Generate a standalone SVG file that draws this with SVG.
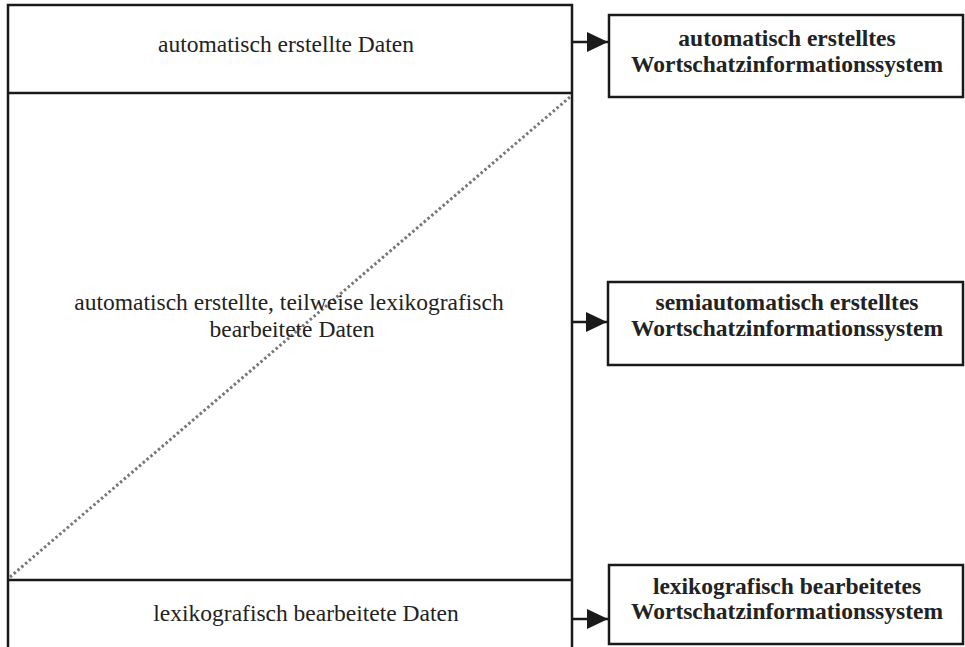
<svg xmlns="http://www.w3.org/2000/svg" width="965" height="647" viewBox="0 0 965 647">
<defs>
<style>
.box{fill:#fff;stroke:#1a1a1a;stroke-width:2.5}
.ln{stroke:#1a1a1a;stroke-width:2.5;fill:none}
.t{font-family:"Liberation Serif","Times New Roman",serif;font-size:23.5px;fill:#222;text-anchor:middle}
.b{font-family:"Liberation Serif","Times New Roman",serif;font-size:23.5px;font-weight:bold;fill:#222;text-anchor:middle}
.con{stroke:#1a1a1a;stroke-width:2.5;fill:none;marker-end:url(#ah)}
</style>
<marker id="ah" markerWidth="22" markerHeight="20" refX="21" refY="10" orient="auto" markerUnits="userSpaceOnUse">
<path d="M0,0 L21,10 L0,20 Z" fill="#1a1a1a"/>
</marker>
</defs>
<rect width="965" height="647" fill="#fff"/>
<g id="data">
<rect class="box" x="8" y="5" width="564" height="660"/>
<line class="ln" x1="8" y1="93" x2="572" y2="93"/>
<line class="ln" x1="8" y1="580" x2="572" y2="580"/>
<line x1="10" y1="577" x2="570" y2="97" stroke="#777" stroke-width="3" stroke-dasharray="2.5 2.5"/>
<text class="t" x="286" y="52">automatisch erstellte Daten</text>
<text class="t" x="289" y="310">automatisch erstellte, teilweise lexikografisch</text>
<text class="t" x="292" y="337">bearbeitete Daten</text>
<text class="t" x="306" y="621">lexikografisch bearbeitete Daten</text>
</g>
<g id="sys1">
<rect class="box" x="609" y="15" width="354" height="82"/>
<text class="b" x="787" y="46">automatisch erstelltes</text>
<text class="b" x="787" y="72">Wortschatzinformationssystem</text>
</g>
<g id="sys2">
<rect class="box" x="608" y="282" width="355" height="83"/>
<text class="b" x="787" y="310">semiautomatisch erstelltes</text>
<text class="b" x="787" y="336">Wortschatzinformationssystem</text>
</g>
<g id="sys3">
<rect class="box" x="609" y="565" width="354" height="79"/>
<text class="b" x="787" y="594">lexikografisch bearbeitetes</text>
<text class="b" x="787" y="619">Wortschatzinformationssystem</text>
</g>
<g id="connectors">
<line class="con" x1="572" y1="42" x2="608" y2="42"/>
<line class="con" x1="572" y1="322" x2="607" y2="322"/>
<line class="con" x1="572" y1="619" x2="608" y2="619"/>
</g>
</svg>
